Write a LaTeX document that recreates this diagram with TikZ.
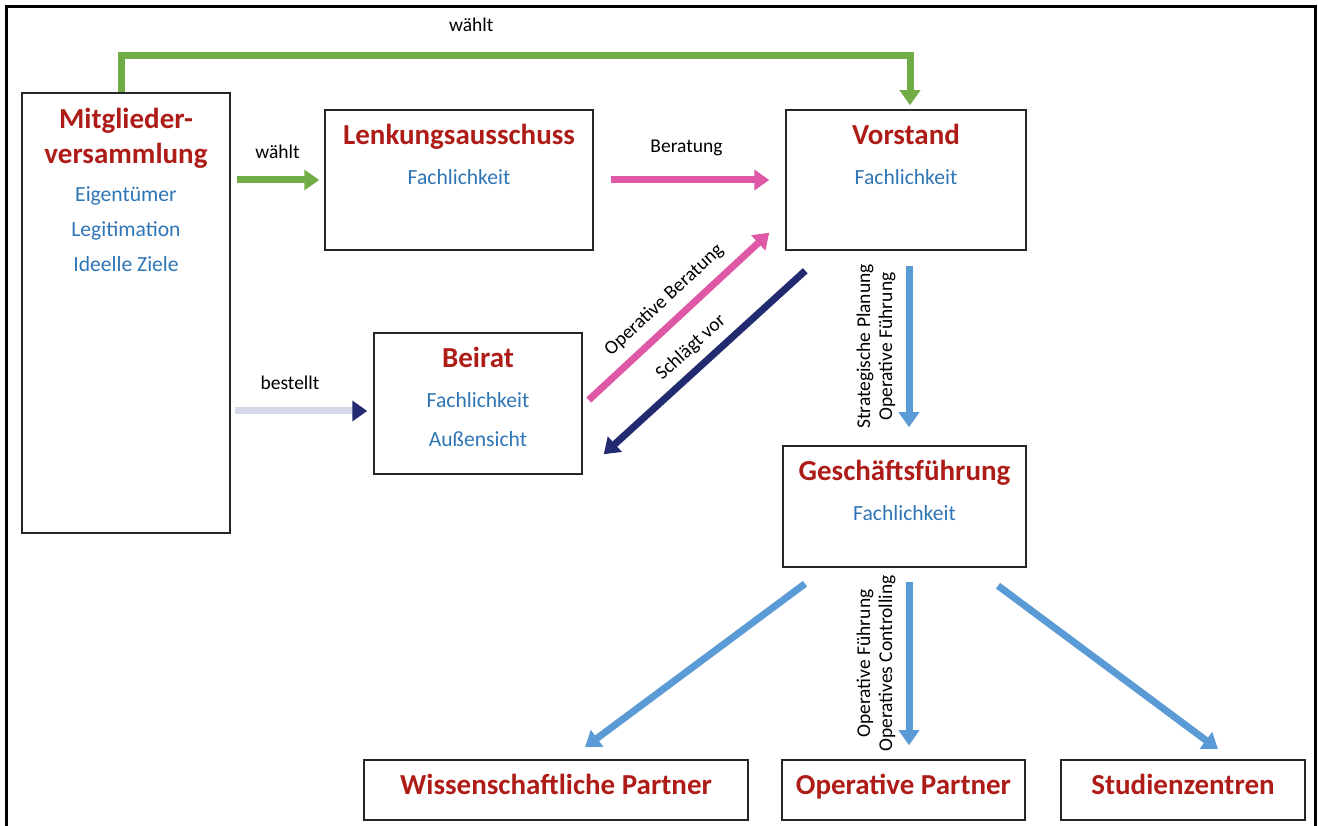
\documentclass[tikz,border=0pt]{standalone}
\usepackage{fontspec}
\setmainfont{Carlito}
\usetikzlibrary{arrows.meta,calc,positioning}
\definecolor{titlered}{RGB}{174,28,24}
\definecolor{itemblue}{RGB}{46,117,182}
\definecolor{wgreen}{RGB}{112,173,71}
\definecolor{rosa}{RGB}{222,88,166}
\definecolor{marine}{RGB}{34,42,112}
\definecolor{lavendel}{RGB}{213,216,232}
\definecolor{hellblau}{RGB}{91,155,213}

\begin{document}
\begin{tikzpicture}[x=1pt,y=1pt,>={Triangle[width=20pt,length=15pt]},
  box/.style={draw=black!85,line width=1.5pt,inner sep=0pt},
  title/.style={text=titlered,font=\fontsize{29}{35}\selectfont\bfseries,align=center},
  oneline/.style={text height=20pt,text depth=6pt},
  item/.style={text=itemblue,font=\fontsize{21.6}{26}\selectfont,text height=15pt,text depth=5pt},
  lbl/.style={font=\fontsize{19.5}{22}\selectfont,inner sep=0pt},
  flow/.style={line width=7pt,->}]
 \useasboundingbox (0,0) rectangle (1318,826);
 \draw[line width=3pt] (6.5,0)--(6.5,819.5)--(1315.5,819.5)--(1315.5,0);

 % Gremien
 \node[box,minimum width=208pt,minimum height=440pt] (mv) at (126,513) {};
 \node[title] (mvT) at ([yshift=-46.5pt]mv.north) {Mitglieder-\\versammlung};
 \node[item] (mvA) at ([yshift=-104pt]mv.north) {Eigentümer};
 \node[item] (mvB) at ([yshift=-139pt]mv.north) {Legitimation};
 \node[item] (mvC) at ([yshift=-174pt]mv.north) {Ideelle Ziele};

 \node[box,minimum width=268pt,minimum height=140pt] (lenk) at (459,646) {};
 \node[title,oneline] (lenkT) at ([yshift=-28pt]lenk.north) {Lenkungsausschuss};
 \node[item] (lenkA) at ([yshift=-70pt]lenk.north) {Fachlichkeit};

 \node[box,minimum width=240pt,minimum height=140pt] (vor) at (906,646) {};
 \node[title,oneline] (vorT) at ([yshift=-28pt]vor.north) {Vorstand};
 \node[item] (vorA) at ([yshift=-70pt]vor.north) {Fachlichkeit};

 \node[box,minimum width=208pt,minimum height=141pt] (beirat) at (478,422.5) {};
 \node[title,oneline] (beiratT) at ([yshift=-28pt]beirat.north) {Beirat};
 \node[item] (beiratA) at ([yshift=-70pt]beirat.north) {Fachlichkeit};
 \node[item] (beiratB) at ([yshift=-109pt]beirat.north) {Außensicht};

 \node[box,minimum width=243pt,minimum height=121pt] (gf) at (904.5,319.5) {};
 \node[title,oneline] (gfT) at ([yshift=-28pt]gf.north) {Geschäftsführung};
 \node[item] (gfA) at ([yshift=-70pt]gf.north) {Fachlichkeit};

 % Partner
 \node[box,title,text depth=12pt,minimum width=384pt,minimum height=60pt] (wiss) at (556,36) {Wissenschaftliche Partner};
 \node[box,title,text depth=12pt,minimum width=243pt,minimum height=60pt] (opp) at (903.5,36) {Operative Partner};
 \node[box,title,text depth=12pt,minimum width=244pt,minimum height=60pt] (stud) at (1183,36) {Studienzentren};

 % Pfeile
 \draw[flow,draw=wgreen] ([xshift=-5pt]mv.north) -- ++(0,37) -| ([xshift=4pt,yshift=4pt]vor.north)
   node[lbl,pos=.222,above=20pt] {wählt};
 \draw[flow,draw=wgreen,shorten <=6pt,shorten >=5pt] (mv.east |- lenk.west) -- (lenk.west)
   node[lbl,midway,above=18pt] {wählt};
 \draw[flow,draw=rosa,shorten <=17pt,shorten >=16pt] (lenk.east) -- (vor.west)
   node[lbl,midway,above=21pt,xshift=-3pt] {Beratung};
 \draw[line width=7pt,draw=lavendel,-{Triangle[width=20pt,length=15pt,color=marine]}]
   ($(mv.east |- beirat.west)+(4,-7.5)$) -- ($(beirat.west)+(-6,-7.5)$)
   node[lbl,midway,above=18pt,xshift=-11pt] {bestellt};
 \draw[flow,draw=rosa] ($(beirat.east)+(6,3.5)$) -- ($(vor.south west)+(-16,18)$)
   node[lbl,midway,sloped,above=10pt] {Operative Beratung};
 \draw[flow,draw=marine] ($(vor.south west)+(20,-20)$) -- ($(beirat.south east)+(21,20.5)$)
   node[lbl,midway,sloped,above=8pt] {Schlägt vor};
 \draw[flow,draw=hellblau] ([xshift=3pt,yshift=-15pt]vor.south) -- ([xshift=4.5pt,yshift=18pt]gf.north)
   node[lbl,midway,xshift=-33pt,rotate=90,align=center] {Strategische Planung\\Operative Führung};
 \draw[flow,draw=hellblau] ($(gf.south)+(-99.5,-16)$) -- ($(wiss.north)+(29,12)$);
 \draw[flow,draw=hellblau] ($(gf.south)+(4.5,-14)$) -- ($(opp.north)+(5.5,14)$)
   node[lbl,midway,xshift=-33pt,rotate=90,align=center] {Operative Führung\\Operatives Controlling};
 \draw[flow,draw=hellblau] ($(gf.south)+(93.5,-18)$) -- ($(stud.north)+(35,10)$);
\end{tikzpicture}
\end{document}
